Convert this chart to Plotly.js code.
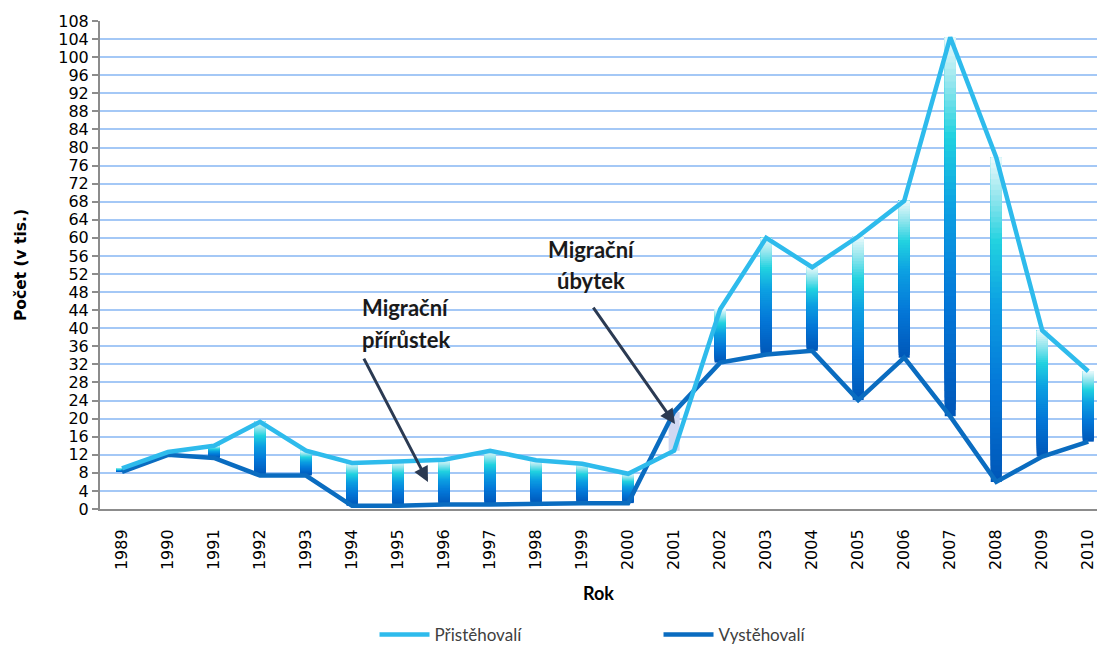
<!DOCTYPE html>
<html>
<head>
<meta charset="utf-8">
<script src="https://cdn.plot.ly/plotly-3.0.1.min.js"></script>
<style>html,body{margin:0;padding:0;background:#fff;}#chart{width:1097px;height:648px;}</style>
</head>
<body>
<div id="chart"></div>
<script>
// ---- data (thousands) ----
const years = ["1989","1990","1991","1992","1993","1994","1995","1996","1997","1998","1999",
               "2000","2001","2002","2003","2004","2005","2006","2007","2008","2009","2010"];
const pristehovali = [9.0, 12.6, 14.0, 19.3, 12.9, 10.2, 10.5, 10.9, 12.9, 10.8, 10.0,
                      7.8, 12.9, 44.2, 60.0, 53.5, 60.3, 68.2, 104.4, 77.8, 39.5, 30.5];
const vystehovali = [8.2, 12.0, 11.3, 7.4, 7.4, 0.7, 0.7, 1.0, 1.0, 1.2, 1.3,
                     1.3, 21.5, 32.4, 34.2, 35.0, 24.1, 33.5, 20.5, 6.0, 11.6, 14.9];
const yTicks = [0,4,8,12,16,20,24,28,32,36,40,44,48,52,56,60,64,68,72,76,80,84,88,92,96,100,104,108];
const labelUp = ["Migrační", "přírůstek"];
const labelDown = ["Migrační", "úbytek"];

// ---- gradient for up/down bars (drawn as thick vertical line slices) ----
const stops = [
  [0.00, [0, 86, 184]],
  [0.30, [4, 120, 216]],
  [0.55, [12, 160, 226]],
  [0.74, [34, 210, 224]],
  [0.88, [150, 230, 238]],
  [1.00, [236, 250, 252]]
];
function gradColor(t) {
  for (let i = 1; i < stops.length; i++) {
    if (t <= stops[i][0]) {
      const a = stops[i-1], b = stops[i];
      const f = (t - a[0]) / (b[0] - a[0]);
      const c = a[1].map((v, k) => Math.round(v + (b[1][k] - v) * f));
      return "rgb(" + c.join(",") + ")";
    }
  }
  return "rgb(236,250,252)";
}
const N = 60;
const barPx = 11;
const traces = [];
// down bars (emigrants > immigrants)
{
  const xs = [], ys = [];
  for (let i = 0; i < years.length; i++) {
    if (vystehovali[i] > pristehovali[i]) {
      xs.push(years[i], years[i], years[i]);
      ys.push(pristehovali[i], vystehovali[i], null);
    }
  }
  traces.push({type: "scatter", mode: "lines", x: xs, y: ys,
    line: {color: "rgb(208,216,242)", width: barPx}, showlegend: false, hoverinfo: "skip"});
}
// up bars, gradient slices
for (let s = 0; s < N; s++) {
  const t = (s + 0.5) / N;
  const xs = [], ys = [];
  for (let i = 0; i < years.length; i++) {
    const lo = vystehovali[i], hi = pristehovali[i];
    if (hi > lo) {
      const d = (hi - lo) / N;
      xs.push(years[i], years[i], years[i]);
      ys.push(lo + s * d, hi, null);
    }
  }
  traces.push({type: "scatter", mode: "lines", x: xs, y: ys,
    line: {color: gradColor(t), width: barPx}, showlegend: false, hoverinfo: "skip"});
}
traces.push({
  type: "scatter", mode: "lines", name: "Vystěhovalí", x: years, y: vystehovali,
  line: {color: "#0a6cc0", width: 4.5}, hoverinfo: "x+y"
});
traces.push({
  type: "scatter", mode: "lines", name: "Přistěhovalí", x: years, y: pristehovali,
  line: {color: "#2ebbec", width: 4.5}, hoverinfo: "x+y"
});

const annFont = {family: "Lato, 'Open Sans', sans-serif", size: 22, color: "#1a1a1a", weight: "bold"};
const layout = {
  width: 1097, height: 648,
  margin: {l: 100, r: 0, t: 21, b: 139},
  paper_bgcolor: "#ffffff", plot_bgcolor: "#ffffff",
  font: {family: "'DejaVu Sans', sans-serif", color: "#000"},
  xaxis: {
    type: "category", categoryorder: "array", categoryarray: years,
    range: [-0.478, 21.19],
    tickangle: -90, tickfont: {size: 16, family: "'DejaVu Sans', sans-serif", color: "#000"},
    ticklabelstandoff: 12,
    showgrid: false, zeroline: false,
    showline: true, linecolor: "#8c8c8c", linewidth: 2,
    ticks: "", fixedrange: true,
    title: {text: "<b>Rok</b>", font: {family: "Lato, sans-serif", size: 18, color: "#000"}, standoff: 18}
  },
  yaxis: {
    range: [0, 108], tickvals: yTicks, ticktext: yTicks.map(String),
    tickfont: {size: 16, family: "'DejaVu Sans', sans-serif", color: "#000"},
    showgrid: true, gridcolor: "#a4c8f6", gridwidth: 2,
    zeroline: false, showline: true, linecolor: "#8c8c8c", linewidth: 2,
    ticks: "outside", ticklen: 6, tickcolor: "#8c8c8c", tickwidth: 1.5,
    fixedrange: true,
    title: {text: "<b>Počet (v tis.)</b>", font: {family: "'DejaVu Sans', sans-serif", size: 15.5, color: "#000"}, standoff: 28}
  },
  legend: {
    orientation: "h", traceorder: "reversed",
    xref: "container", yref: "container", x: 0.3414, y: 0.020, xanchor: "left", yanchor: "middle",
    font: {family: "Lato, sans-serif", size: 17, color: "#404040"},
    itemwidth: 50, entrywidth: 219, entrywidthmode: "pixels",
    bgcolor: "rgba(0,0,0,0)"
  },
  annotations: [
    {x: 6.17, y: 44.7, xref: "x", yref: "y", text: "<b>" + labelUp[0] + "</b>", showarrow: false, font: annFont},
    {x: 6.17, y: 37.6, xref: "x", yref: "y", text: "<b>" + labelUp[1] + "</b>", showarrow: false, font: annFont},
    {x: 10.2, y: 57.5, xref: "x", yref: "y", text: "<b>" + labelDown[0] + "</b>", showarrow: false, font: annFont},
    {x: 10.2, y: 50.6, xref: "x", yref: "y", text: "<b>" + labelDown[1] + "</b>", showarrow: false, font: annFont},
    {x: 6.65, y: 6.0, ax: 5.24, ay: 33.6, xref: "x", yref: "y", axref: "x", ayref: "y",
     text: "", showarrow: true, arrowhead: 2, arrowsize: 1, arrowwidth: 3, arrowcolor: "#2b3a52"},
    {x: 12.02, y: 18.8, ax: 10.22, ay: 44.9, xref: "x", yref: "y", axref: "x", ayref: "y",
     text: "", showarrow: true, arrowhead: 2, arrowsize: 1, arrowwidth: 3, arrowcolor: "#2b3a52"}
  ]
};
Plotly.newPlot("chart", traces, layout, {displayModeBar: false});
</script>
</body>
</html>
